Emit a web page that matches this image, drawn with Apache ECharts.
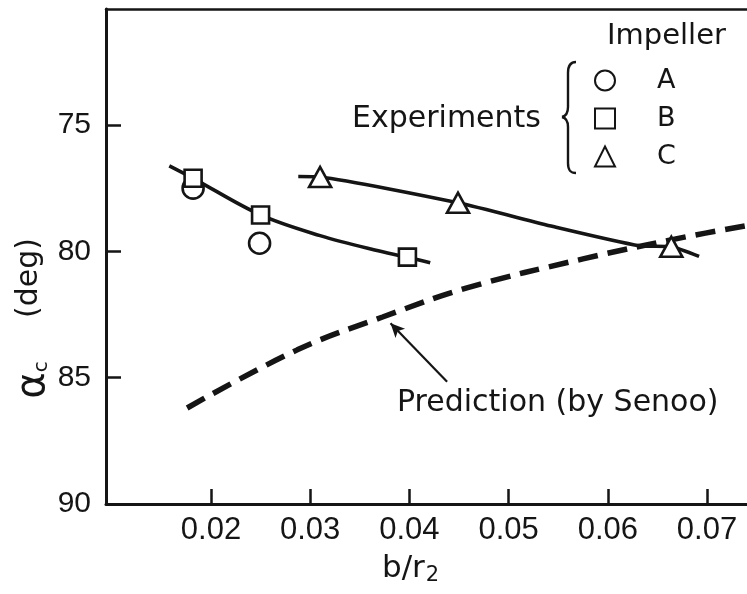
<!DOCTYPE html>
<html>
<head>
<meta charset="utf-8">
<script src="https://cdn.jsdelivr.net/npm/echarts@6/dist/echarts.min.js"></script>
<style>
  html, body { margin: 0; padding: 0; background: #fff; }
  #chart { width: 747px; height: 594px; }
</style>
</head>
<body>
<div id="chart"></div>
<script>
// Flow angle at diffuser inlet vs. relative width b/r2

// Measured points, impeller A
const aX = [0.0182, 0.0249];
const aY = [77.5, 79.68];
// Measured points, impeller B
const bX = [0.0182, 0.025, 0.0398];
const bY = [77.11, 78.56, 80.23];
// Measured points, impeller C
const cX = [0.031, 0.0449, 0.0664];
const cY = [77.06, 78.08, 79.82];

// Faired curve through B data
const bFitX = [0.0158, 0.0182, 0.025, 0.031, 0.0365, 0.0398, 0.0421];
const bFitY = [76.62, 77.11, 78.56, 79.38, 79.95, 80.23, 80.45];
// Faired curve through C data
const cFitX = [0.0288, 0.031, 0.0449, 0.0545, 0.0632, 0.0664, 0.0692];
const cFitY = [77.04, 77.06, 78.08, 79.02, 79.78, 79.82, 80.2];

// Prediction by Senoo
const predX = [0.0176, 0.0287, 0.0373, 0.0458, 0.0575, 0.0676, 0.0745];
const predY = [86.2, 83.9, 82.6, 81.45, 80.3, 79.45, 78.95];

// Axis ticks
const xTicks = [0.02, 0.03, 0.04, 0.05, 0.06, 0.07];
const yTicks = [75, 80, 85, 90];

// Arrow pointing at the prediction curve (data coordinates)
const arrowFrom = [0.0438, 85.16];
const arrowTo = [0.0381, 82.85];

const zip = (xs, ys) => xs.map((x, i) => [x, ys[i]]);

const ink = '#151515';
const font = '"DejaVu Sans", sans-serif';
const markerStyle = { color: '#fff', borderColor: ink, borderWidth: 2.6, opacity: 1 };
const braceStyle = { stroke: ink, fill: 'none', lineWidth: 2.4 };

// Curly brace grouping the legend entries
const brace = [
  { type: 'bezierCurve', shape: { x1: 576, y1: 62, cpx1: 570, cpy1: 62, cpx2: 568, cpy2: 66, x2: 568, y2: 73 }, style: braceStyle },
  { type: 'line', shape: { x1: 568, y1: 73, x2: 568, y2: 107 }, style: braceStyle },
  { type: 'bezierCurve', shape: { x1: 568, y1: 107, cpx1: 568, cpy1: 113, cpx2: 566, cpy2: 116, x2: 562, y2: 117 }, style: braceStyle },
  { type: 'bezierCurve', shape: { x1: 562, y1: 117, cpx1: 566, cpy1: 118, cpx2: 568, cpy2: 121, x2: 568, y2: 127 }, style: braceStyle },
  { type: 'line', shape: { x1: 568, y1: 127, x2: 568, y2: 163 }, style: braceStyle },
  { type: 'bezierCurve', shape: { x1: 568, y1: 163, cpx1: 568, cpy1: 170, cpx2: 570, cpy2: 173, x2: 576, y2: 173 }, style: braceStyle }
];

const chart = echarts.init(document.getElementById('chart'), null, { renderer: 'canvas' });

chart.setOption({
  backgroundColor: '#fff',
  animation: false,
  grid: { left: 106, right: 0, top: 9, bottom: 90, containLabel: false },
  xAxis: [{
    type: 'value',
    min: 0.00942,
    max: 0.07403,
    axisLine: { show: true, onZero: false, lineStyle: { color: ink, width: 3 } },
    axisTick: { show: true, inside: true, length: 15, customValues: xTicks, lineStyle: { color: ink, width: 2.5 } },
    axisLabel: {
      customValues: xTicks,
      formatter: v => v.toFixed(2),
      margin: 11,
      color: ink,
      fontFamily: '"Liberation Sans", sans-serif',
      fontSize: 31
    },
    splitLine: { show: false }
  }, {
    type: 'value',
    position: 'top',
    min: 0.00942,
    max: 0.07403,
    axisLine: { show: true, onZero: false, lineStyle: { color: ink, width: 2.5 } },
    axisTick: { show: false },
    axisLabel: { show: false },
    splitLine: { show: false }
  }],
  yAxis: {
    type: 'value',
    inverse: true,
    min: 70.41,
    max: 90,
    axisLine: { show: true, onZero: false, lineStyle: { color: ink, width: 3 } },
    axisTick: { show: true, inside: true, length: 15, customValues: yTicks, lineStyle: { color: ink, width: 2.5 } },
    axisLabel: {
      customValues: yTicks,
      margin: 15,
      color: ink,
      fontFamily: '"Liberation Sans", sans-serif',
      fontSize: 30
    },
    splitLine: { show: false }
  },
  legend: {
    data: ['A', 'B', 'C'],
    orient: 'vertical',
    left: 589,
    top: 62,
    itemWidth: 20,
    itemHeight: 20,
    itemGap: 11,
    selectedMode: false,
    textStyle: {
      color: ink,
      fontFamily: font,
      fontSize: 27,
      padding: [0, 0, 0, 37]
    }
  },
  series: [
    {
      name: 'Prediction',
      type: 'line',
      data: zip(predX, predY),
      smooth: 0.4,
      showSymbol: false,
      lineStyle: { color: ink, width: 5.5, type: [20, 10] },
      z: 1,
      markLine: {
        silent: true,
        symbol: ['none', 'arrow'],
        symbolSize: [10, 14],
        lineStyle: { color: ink, width: 2.2, type: 'solid' },
        label: { show: false },
        data: [[{ coord: arrowFrom }, { coord: arrowTo }]]
      }
    },
    {
      name: 'B fit',
      type: 'line',
      data: zip(bFitX, bFitY),
      smooth: 0.35,
      showSymbol: false,
      lineStyle: { color: ink, width: 3.6 },
      z: 2
    },
    {
      name: 'C fit',
      type: 'line',
      data: zip(cFitX, cFitY),
      smooth: 0.2,
      showSymbol: false,
      lineStyle: { color: ink, width: 3.6 },
      z: 2
    },
    {
      name: 'A',
      type: 'scatter',
      data: zip(aX, aY),
      symbol: 'circle',
      symbolSize: 21,
      itemStyle: markerStyle,
      z: 3
    },
    {
      name: 'B',
      type: 'scatter',
      data: zip(bX, bY),
      symbol: 'rect',
      symbolSize: 17,
      itemStyle: markerStyle,
      z: 4
    },
    {
      name: 'C',
      type: 'scatter',
      data: zip(cX, cY),
      symbol: 'triangle',
      symbolSize: [22, 20],
      itemStyle: markerStyle,
      z: 4
    }
  ],
  graphic: brace.concat([
    {
      type: 'text',
      left: 607, top: 22,
      style: { text: 'Impeller', fill: ink, font: '29px ' + font }
    },
    {
      type: 'text',
      left: 352, top: 104,
      style: { text: 'Experiments', fill: ink, font: '30px ' + font }
    },
    {
      type: 'text',
      left: 397, top: 388,
      style: { text: 'Prediction (by Senoo)', fill: ink, font: '30px ' + font }
    },
    {
      type: 'text',
      x: 29, y: 278,
      rotation: Math.PI / 2,
      style: { text: '(deg)', align: 'center', verticalAlign: 'middle', fill: ink, font: '30px ' + font }
    },
    {
      type: 'text',
      x: 34, y: 380,
      rotation: Math.PI / 2,
      style: {
        text: '{a|α}{s|c}',
        align: 'center',
        verticalAlign: 'middle',
        fill: ink,
        rich: {
          a: { fontSize: 40, fontFamily: font, fill: ink },
          s: { fontSize: 20, fontFamily: font, fill: ink, padding: [16, 0, 0, 0] }
        }
      }
    },
    {
      type: 'text',
      left: 382, top: 553,
      style: {
        text: '{b|b/r}{s|2}',
        fill: ink,
        rich: {
          b: { fontSize: 31, fontFamily: font, fill: ink },
          s: { fontSize: 21, fontFamily: font, fill: ink, padding: [14, 0, 0, 1] }
        }
      }
    }
  ])
});
</script>
</body>
</html>
